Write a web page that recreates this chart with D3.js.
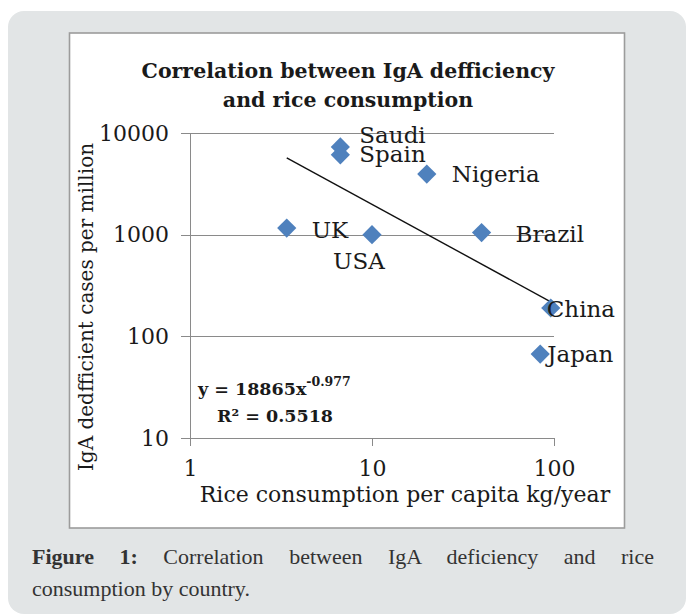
<!DOCTYPE html>
<html>
<head>
<meta charset="utf-8">
<script src="https://cdn.jsdelivr.net/npm/d3@7"></script>
<style>
  body { margin: 0; background: #fff; }
  svg text { font-family: "DejaVu Serif", serif; fill: #1a1a1a; }
</style>
</head>
<body>
<svg id="chart" width="686" height="615"></svg>
<script>
// data
const countries = ["Saudi", "Spain", "Nigeria", "UK", "USA", "Brazil", "China", "Japan"];
const riceKg = [6.7, 6.7, 20, 3.4, 10, 40, 96, 84];
const igaPerMillion = [7300, 6100, 3950, 1160, 1000, 1050, 190, 67];

const xTicks = [1, 10, 100];
const yTicks = [10, 100, 1000, 10000];

// power trendline printed on the chart
const trendA = 18865;
const trendB = -0.977;
const rSquared = "0.5518";

// label nudges (px from the marker), like Excel's hand-moved labels
const labelNudge = {
    Saudi: [19, -4], Spain: [19, 7], Nigeria: [25, 8], UK: [25, 10],
    USA: [-39, 34], Brazil: [34, 9], China: [-4, 9], Japan: [7, 8]
};

const points = countries.map((c, i) => ({ name: c, x: riceKg[i], y: igaPerMillion[i] }));

const svg = d3.select("#chart");

// grey page panel + white chart box
svg.append("rect")
    .attr("x", 8).attr("y", 11)
    .attr("width", 678).attr("height", 603)
    .attr("rx", 16).attr("ry", 16)
    .attr("fill", "#e2e5e6");

svg.append("rect")
    .attr("x", 69.5).attr("y", 33)
    .attr("width", 555).attr("height", 495)
    .attr("fill", "#fff")
    .attr("stroke", "#9c9c9c")
    .attr("stroke-width", 1.6);

const x = d3.scaleLog().domain([1, 100]).range([190, 554]);
const y = d3.scaleLog().domain([10, 10000]).range([438, 133]);

// gridlines
svg.append("g")
    .attr("transform", `translate(${x(1)},0)`)
    .call(d3.axisLeft(y).tickValues(yTicks).tickSize(-(x(100) - x(1))).tickFormat(""))
    .call(g => g.select(".domain").remove())
    .call(g => g.selectAll("line").attr("stroke", "#8a8a8a").attr("shape-rendering", "crispEdges"));

// y axis
svg.append("g")
    .attr("transform", `translate(${x(1)},0)`)
    .call(d3.axisLeft(y).tickValues(yTicks).tickSize(9).tickSizeOuter(0).tickPadding(12).tickFormat(d3.format("d")))
    .call(g => g.select(".domain").attr("stroke", "#8a8a8a").attr("shape-rendering", "crispEdges"))
    .call(g => g.selectAll("line").attr("stroke", "#8a8a8a").attr("shape-rendering", "crispEdges"))
    .call(g => g.selectAll("text")
        .style("font-family", "DejaVu Serif")
        .style("font-size", "22px")
        .attr("fill", "#1a1a1a"));

// x axis
svg.append("g")
    .attr("transform", `translate(0,${y(10)})`)
    .call(d3.axisBottom(x).tickValues(xTicks).tickSize(8).tickSizeOuter(0).tickPadding(14).tickFormat(d3.format("d")))
    .call(g => g.select(".domain").attr("stroke", "#8a8a8a").attr("shape-rendering", "crispEdges"))
    .call(g => g.selectAll("line").attr("stroke", "#8a8a8a").attr("shape-rendering", "crispEdges"))
    .call(g => g.selectAll("text")
        .style("font-family", "DejaVu Serif")
        .style("font-size", "22px")
        .attr("fill", "#1a1a1a"));

// trendline
const xs = d3.extent(riceKg);
svg.append("line")
    .attr("x1", x(xs[0])).attr("y1", y(trendA * Math.pow(xs[0], trendB)))
    .attr("x2", x(xs[1])).attr("y2", y(trendA * Math.pow(xs[1], trendB)))
    .attr("stroke", "#111")
    .attr("stroke-width", 1.4);

// markers
svg.append("g")
    .selectAll("path")
    .data(points)
    .join("path")
    .attr("d", d3.symbol().type(d3.symbolSquare).size(185))
    .attr("transform", d => `translate(${x(d.x)},${y(d.y)}) rotate(45)`)
    .attr("fill", "#4f81bd");

// data labels
svg.append("g")
    .selectAll("text")
    .data(points)
    .join("text")
    .attr("x", d => x(d.x) + labelNudge[d.name][0])
    .attr("y", d => y(d.y) + labelNudge[d.name][1])
    .style("font-size", "23px")
    .text(d => d.name);

// title
const title = svg.append("text")
    .attr("text-anchor", "middle")
    .style("font-size", "20.5px")
    .style("font-weight", "bold");
title.append("tspan").attr("x", 348).attr("y", 78).text("Correlation between IgA defficiency");
title.append("tspan").attr("x", 348).attr("y", 107).text("and rice consumption");

// axis titles
svg.append("text")
    .attr("x", 405).attr("y", 502)
    .attr("text-anchor", "middle")
    .style("font-size", "22px")
    .text("Rice consumption per capita kg/year");

svg.append("text")
    .attr("transform", "translate(93,307) rotate(-90)")
    .attr("text-anchor", "middle")
    .style("font-size", "20px")
    .text("IgA dedfficient cases per million");

// trendline equation
const eq = svg.append("text")
    .attr("x", 198).attr("y", 395)
    .style("font-size", "17.5px")
    .style("font-weight", "bold");
eq.append("tspan").text(`y = ${trendA}x`);
eq.append("tspan").attr("dy", -9).style("font-size", "12.5px").text(trendB.toString());

svg.append("text")
    .attr("x", 217).attr("y", 422)
    .style("font-size", "17.5px")
    .style("font-weight", "bold")
    .text(`R² = ${rSquared}`);

// figure caption, first line justified
const capLeft = 32, capRight = 654;
const cap1 = svg.append("text")
    .attr("x", capLeft).attr("y", 564)
    .style("font-family", "Liberation Serif")
    .style("font-size", "22px")
    .attr("fill", "#333");
cap1.append("tspan").style("font-weight", "bold").style("fill", "#333").text("Figure 1:");
cap1.append("tspan").style("fill", "#333").text(" Correlation between IgA deficiency and rice");
const natural = cap1.node().getComputedTextLength();
cap1.style("word-spacing", `${(capRight - capLeft - natural) / 7}px`);

svg.append("text")
    .attr("x", capLeft).attr("y", 596)
    .style("font-family", "Liberation Serif")
    .style("font-size", "22px")
    .style("fill", "#333")
    .text("consumption by country.");
</script>
</body>
</html>
